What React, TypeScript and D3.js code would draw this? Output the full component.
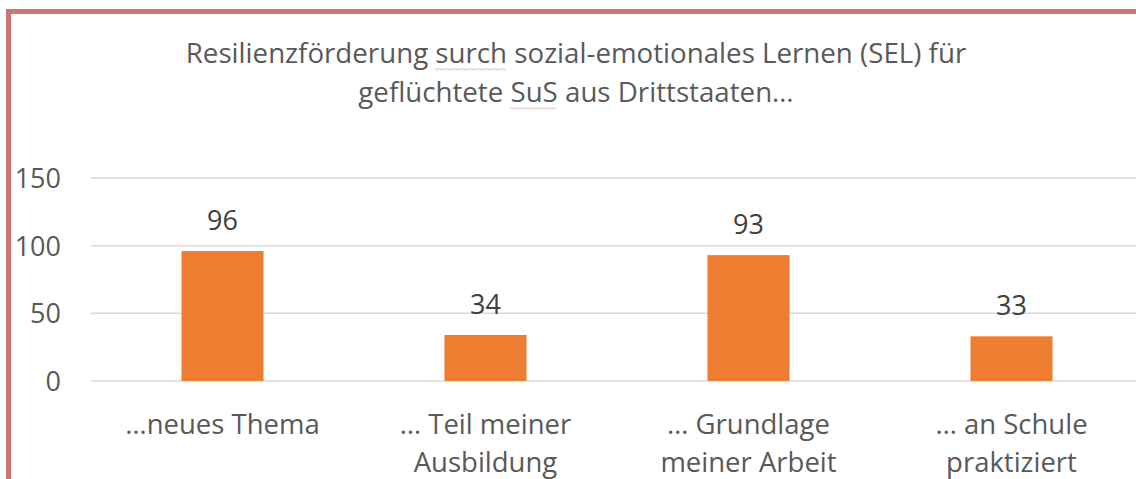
import React, { useEffect, useRef, useState } from "react";
import * as d3 from "d3";

const categories: string[][] = [
  ["…neues Thema"],
  ["… Teil meiner", "Ausbildung"],
  ["… Grundlage", "meiner Arbeit"],
  ["… an Schule", "praktiziert"],
];
const values: number[] = [96, 34, 93, 33];
const yTicks: number[] = [0, 50, 100, 150];
const titleLines = [
  ["Resilienzförderung ", "surch", " sozial-emotionales Lernen (SEL) für"],
  ["geflüchtete ", "SuS", " aus Drittstaaten…"],
];

const W = 1136;
const H = 479;
const FONT = "'Open Sans', 'Noto Sans', sans-serif";
const TEXT = "#595959";
const TITLE_Y = [62.5, 101.5];

export default function App() {
  const keys = categories.map((c) => c.join(" "));
  const x = d3
    .scaleBand<string>()
    .domain(keys)
    .range([91, 1143])
    .paddingInner(0.688)
    .paddingOuter(0.344);
  const y = d3.scaleLinear().domain([0, 150]).range([381, 178]);

  const titleRefs = useRef<(SVGTextElement | null)[]>([]);
  const [squiggles, setSquiggles] = useState<{ x0: number; x1: number; y: number }[]>([]);

  useEffect(() => {
    const res: { x0: number; x1: number; y: number }[] = [];
    titleLines.forEach((parts, i) => {
      const el = titleRefs.current[i];
      if (!el) return;
      const start = parts[0].length;
      const end = start + parts[1].length - 1;
      try {
        const p0 = el.getStartPositionOfChar(start);
        const p1 = el.getEndPositionOfChar(end);
        res.push({ x0: p0.x, x1: p1.x, y: TITLE_Y[i] + 6 });
      } catch (e) {
        /* ignore */
      }
    });
    setSquiggles(res);
  }, []);

  const wavy = (x0: number, x1: number, yy: number) => {
    const pts: [number, number][] = [];
    let k = 0;
    for (let xx = x0; xx <= x1; xx += 2) {
      pts.push([xx, yy + (k % 2 === 0 ? 0 : 1.5)]);
      k++;
    }
    return d3.line()(pts) || "";
  };

  return (
    <svg
      width={W}
      height={H}
      style={{ position: "absolute", left: 0, top: 0, background: "#fff" }}
      fontFamily={FONT}
    >
      <rect x={0} y={0} width={W} height={H} fill="#fff" />
      {/* border */}
      <path
        d={`M8.5,${H + 5} L8.5,11.5 L${W + 5},11.5`}
        fill="none"
        stroke="#CF7571"
        strokeWidth={5}
      />
      {/* title */}
      {titleLines.map((parts, i) => (
        <text
          key={i}
          ref={(el) => {
            titleRefs.current[i] = el;
          }}
          x={576}
          y={TITLE_Y[i]}
          textAnchor="middle"
          fontSize={27.7}
          fill={TEXT}
        >
          {parts.join("")}
        </text>
      ))}
      {squiggles.map((s, i) => (
        <path key={i} d={wavy(s.x0, s.x1, s.y)} fill="none" stroke="#EBA5A5" strokeWidth={1} />
      ))}
      {/* gridlines */}
      {yTicks.map((t) => (
        <line
          key={t}
          x1={91}
          x2={W}
          y1={y(t)}
          y2={y(t)}
          stroke="#D9D9D9"
          strokeWidth={1.5}
        />
      ))}
      {/* y labels */}
      {yTicks.map((t) => (
        <text
          key={t}
          x={61}
          y={y(t) + 10}
          textAnchor="end"
          fontSize={27}
          fill={TEXT}
        >
          {t}
        </text>
      ))}
      {/* bars */}
      {values.map((v, i) => (
        <rect
          key={i}
          x={x(keys[i])}
          y={y(v)}
          width={x.bandwidth()}
          height={y(0) - y(v)}
          fill="#ED7D31"
        />
      ))}
      {/* value labels */}
      {values.map((v, i) => (
        <text
          key={i}
          x={(x(keys[i]) as number) + x.bandwidth() / 2}
          y={y(v) - 21}
          textAnchor="middle"
          fontSize={27}
          fill="#404040"
        >
          {v}
        </text>
      ))}
      {/* category labels */}
      {categories.map((lines, i) => (
        <text
          key={i}
          x={(x(keys[i]) as number) + x.bandwidth() / 2}
          textAnchor="middle"
          fontSize={27.5}
          fill={TEXT}
        >
          {lines.map((l, j) => (
            <tspan key={j} x={(x(keys[i]) as number) + x.bandwidth() / 2} y={434 + j * 38}>
              {l}
            </tspan>
          ))}
        </text>
      ))}
    </svg>
  );
}
